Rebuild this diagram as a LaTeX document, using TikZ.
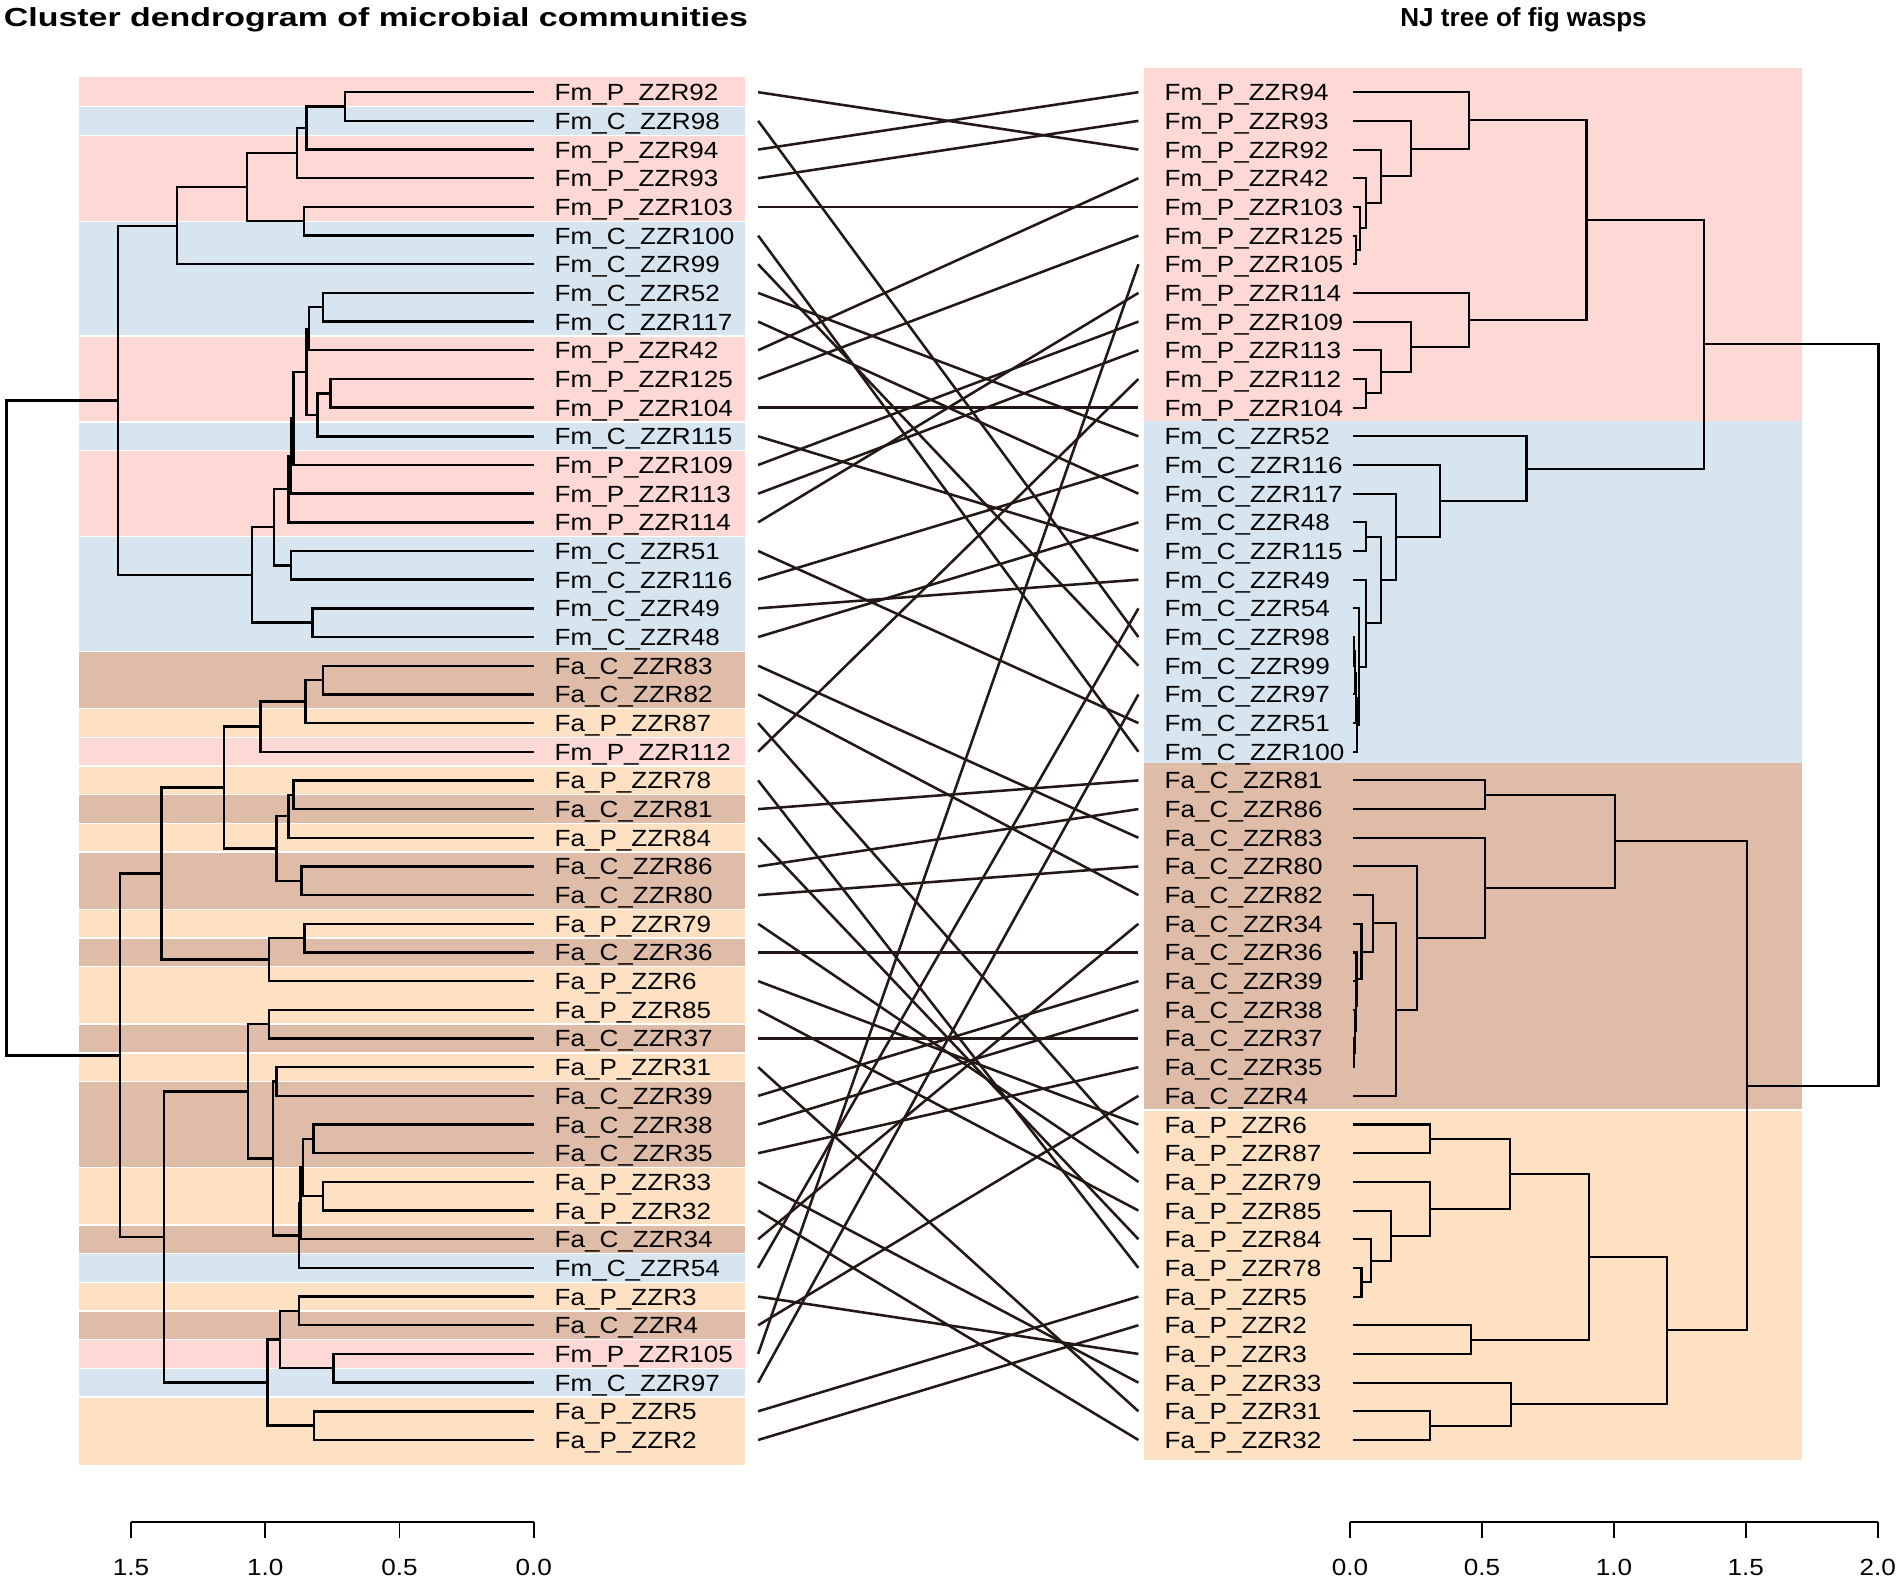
\documentclass[tikz,border=0pt]{standalone}
\usepackage{fontspec}
\setmainfont{Liberation Sans}
\usepackage{graphicx}
\usetikzlibrary{calc}
\definecolor{colmp}{HTML}{FDD8D5}
\definecolor{colmc}{HTML}{D7E5F1}
\definecolor{colac}{HTML}{DFBCA8}
\definecolor{colap}{HTML}{FDE1C2}
\definecolor{linec}{HTML}{231815}
\newcommand\premp{Fm\_P\_ZZR}
\newcommand\premc{Fm\_C\_ZZR}
\newcommand\preac{Fa\_C\_ZZR}
\newcommand\preap{Fa\_P\_ZZR}
\newcommand\RY[1]{76+23.64*(#1)}
\newcommand\stx[1]{\scalebox{1.114}[1]{#1}}
\newcommand\mkjoin[4]{\path let \p1=(#3), \p2=(#4) in coordinate (#1) at (#2pt,{0.5*\y1+0.5*\y2});
  \draw[tree] (#3) -| (#1) |- (#4);}
\begin{document}
\begin{tikzpicture}[x=1pt,y=-1pt,
  lab/.style={font=\fontsize{19.3}{22}\selectfont, inner sep=0pt},
  ttl/.style={font=\bfseries\fontsize{21.5}{24}\selectfont, inner sep=0pt},
  conn/.style={line width=2.1pt, draw=linec},
  tree/.style={line width=2pt, draw=black},
  axis/.style={line width=1.5pt, draw=black}]
\useasboundingbox (0,0) rectangle (1568,1307);
% ---------- left bands ----------
\foreach \g/\n [count=\i from 0] in {mp/92,mc/98,mp/94,mp/93,mp/103,mc/100,mc/99,mc/52,mc/117,mp/42,mp/125,mp/104,mc/115,mp/109,mp/113,mp/114,mc/51,mc/116,mc/49,mc/48,ac/83,ac/82,ap/87,mp/112,ap/78,ac/81,ap/84,ac/86,ac/80,ap/79,ac/36,ap/6,ap/85,ac/37,ap/31,ac/39,ac/38,ac/35,ap/33,ap/32,ac/34,mc/54,ap/3,ac/4,mp/105,mc/97,ap/5,ap/2}{
  \fill[col\g] (65,{\RY{\i-0.5}-0.3}) rectangle (614,{\RY{\i+0.5}+0.3});
}
\fill[colap] (65,{\RY{47}}) rectangle (614,1208);
\foreach \k in {0,1,4,8,11,12,15,19,21,22,23,24,25,26,28,29,30,32,33,34,37,39,40,41,42,43,44,45}{
  \draw[white, line width=1.1pt] (65,{\RY{\k+0.5}}) -- (614,{\RY{\k+0.5}});
}
% ---------- right bands ----------
\fill[colmp] (943,56) rectangle (1485.6,347.5);
\fill[colmc] (943,347) rectangle (1485.6,629.5);
\fill[colac] (943,629) rectangle (1485.6,915.5);
\fill[colap] (943,915) rectangle (1485.6,1204);
\draw[white, line width=1.1pt] (943,915) -- (1485.6,915);
% ---------- left labels ----------
\foreach \g/\n [count=\i from 0] in {mp/92,mc/98,mp/94,mp/93,mp/103,mc/100,mc/99,mc/52,mc/117,mp/42,mp/125,mp/104,mc/115,mp/109,mp/113,mp/114,mc/51,mc/116,mc/49,mc/48,ac/83,ac/82,ap/87,mp/112,ap/78,ac/81,ap/84,ac/86,ac/80,ap/79,ac/36,ap/6,ap/85,ac/37,ap/31,ac/39,ac/38,ac/35,ap/33,ap/32,ac/34,mc/54,ap/3,ac/4,mp/105,mc/97,ap/5,ap/2}{
  \node[lab, anchor=base west] (TL\g\n) at (457,{\RY{\i}+7}) {\stx{\csname pre\g\endcsname\n}};
  \coordinate (L\g\n) at (440,{\RY{\i}});
  \coordinate (CL\g\n) at (625,{\RY{\i}});
}
% ---------- right labels ----------
\foreach \g/\n [count=\i from 0] in {mp/94,mp/93,mp/92,mp/42,mp/103,mp/125,mp/105,mp/114,mp/109,mp/113,mp/112,mp/104,mc/52,mc/116,mc/117,mc/48,mc/115,mc/49,mc/54,mc/98,mc/99,mc/97,mc/51,mc/100,ac/81,ac/86,ac/83,ac/80,ac/82,ac/34,ac/36,ac/39,ac/38,ac/37,ac/35,ac/4,ap/6,ap/87,ap/79,ap/85,ap/84,ap/78,ap/5,ap/2,ap/3,ap/33,ap/31,ap/32}{
  \node[lab, anchor=base west] (TR\g\n) at (960,{\RY{\i}+7}) {\stx{\csname pre\g\endcsname\n}};
  \coordinate (R\g\n) at (1115,{\RY{\i}});
  \coordinate (CR\g\n) at (938.5,{\RY{\i}});
}
% ---------- connectors ----------
\foreach \c in {mp92,mc98,mp94,mp93,mp103,mc100,mc99,mc52,mc117,mp42,mp125,mp104,mc115,mp109,mp113,mp114,mc51,mc116,mc49,mc48,ac83,ac82,ap87,mp112,ap78,ac81,ap84,ac86,ac80,ap79,ac36,ap6,ap85,ac37,ap31,ac39,ac38,ac35,ap33,ap32,ac34,mc54,ap3,ac4,mp105,mc97,ap5,ap2}{
  \draw[conn] (CL\c) -- (CR\c);
}
% ---------- left tree ----------
\mkjoin{ln1}{284.5}{Lmp92}{Lmc98}
\mkjoin{ln2}{252.5}{ln1}{Lmp94}
\mkjoin{ln3}{245}{ln2}{Lmp93}
\mkjoin{ln4}{250.5}{Lmp103}{Lmc100}
\mkjoin{ln5}{203.8}{ln3}{ln4}
\mkjoin{ln6}{145.9}{ln5}{Lmc99}
\mkjoin{lm1}{266.5}{Lmc52}{Lmc117}
\mkjoin{lm2}{254.5}{lm1}{Lmp42}
\mkjoin{lm3}{272.5}{Lmp125}{Lmp104}
\mkjoin{lm4}{261.7}{lm3}{Lmc115}
\mkjoin{lm5}{252.5}{lm2}{lm4}
\mkjoin{lm6}{241.8}{lm5}{Lmp109}
\mkjoin{lm7}{239.8}{lm6}{Lmp113}
\mkjoin{lm8}{237.8}{lm7}{Lmp114}
\mkjoin{lm9}{239.8}{Lmc51}{Lmc116}
\mkjoin{lm10}{225.8}{lm8}{lm9}
\mkjoin{lm11}{257.7}{Lmc49}{Lmc48}
\mkjoin{lm12}{207.8}{lm10}{lm11}
\mkjoin{lfm}{97.1}{ln6}{lm12}
\mkjoin{la1}{266.5}{Lac83}{Lac82}
\mkjoin{la2}{251.7}{la1}{Lap87}
\mkjoin{la3}{214.6}{la2}{Lmp112}
\mkjoin{la4}{241.8}{Lap78}{Lac81}
\mkjoin{la5}{237.8}{la4}{Lap84}
\mkjoin{la6}{248.6}{Lac86}{Lac80}
\mkjoin{la7}{227.8}{la5}{la6}
\mkjoin{la8}{184.6}{la3}{la7}
\mkjoin{la9}{251}{Lap79}{Lac36}
\mkjoin{la10}{221.8}{la9}{Lap6}
\mkjoin{la11}{133}{la8}{la10}
\mkjoin{lb1}{221.8}{Lap85}{Lac37}
\mkjoin{lb2}{227.8}{Lap31}{Lac39}
\mkjoin{lb3}{258.5}{Lac38}{Lac35}
\mkjoin{lb4}{266.5}{Lap33}{Lap32}
\mkjoin{lb5}{249.7}{lb3}{lb4}
\mkjoin{lb6}{247.8}{lb5}{Lac34}
\mkjoin{lb7}{246.6}{lb6}{Lmc54}
\mkjoin{lb8}{225}{lb2}{lb7}
\mkjoin{lb9}{204.6}{lb1}{lb8}
\mkjoin{lc1}{246.6}{Lap3}{Lac4}
\mkjoin{lc2}{274.9}{Lmp105}{Lmc97}
\mkjoin{lc3}{231}{lc1}{lc2}
\mkjoin{lc4}{259}{Lap5}{Lap2}
\mkjoin{lc5}{220.6}{lc3}{lc4}
\mkjoin{lc6}{135}{lb9}{lc5}
\mkjoin{lfa}{99.1}{la11}{lc6}
\mkjoin{lroot}{5.2}{lfm}{lfa}
% ---------- right tree ----------
\begin{scope}[tree/.style={line width=1.7pt, draw=black}]
\mkjoin{rp1}{1117.5}{Rmp125}{Rmp105}
\mkjoin{rp2}{1120.8}{Rmp103}{rp1}
\mkjoin{rp3}{1126.4}{Rmp42}{rp2}
\mkjoin{rp4}{1138.6}{Rmp92}{rp3}
\mkjoin{rp5}{1163}{Rmp93}{rp4}
\mkjoin{rp6}{1210.9}{Rmp94}{rp5}
\mkjoin{rq1}{1126.4}{Rmp112}{Rmp104}
\mkjoin{rq2}{1138.6}{Rmp113}{rq1}
\mkjoin{rq3}{1163}{Rmp109}{rq2}
\mkjoin{rq4}{1210.9}{Rmp114}{rq3}
\mkjoin{rpk}{1307.9}{rp6}{rq4}
\mkjoin{ru1}{1126.4}{Rmc48}{Rmc115}
\mkjoin{rv1}{1116}{Rmc98}{Rmc99}
\mkjoin{rv2}{1117}{rv1}{Rmc97}
\mkjoin{rv3}{1118}{rv2}{Rmc51}
\mkjoin{rv4}{1119}{rv3}{Rmc100}
\mkjoin{rv5}{1120.3}{Rmc54}{rv4}
\mkjoin{rv6}{1126.4}{Rmc49}{rv5}
\mkjoin{ru2}{1138.6}{ru1}{rv6}
\mkjoin{ru3}{1150.8}{Rmc117}{ru2}
\mkjoin{ru4}{1187.3}{Rmc116}{ru3}
\mkjoin{ru5}{1258.4}{Rmc52}{ru4}
\mkjoin{rpb}{1404.9}{rpk}{ru5}
\mkjoin{rw1}{1223.9}{Rac81}{Rac86}
\mkjoin{rx1}{1116}{Rac37}{Rac35}
\mkjoin{rx2}{1116.8}{Rac38}{rx1}
\mkjoin{rx3}{1117.5}{Rac39}{rx2}
\mkjoin{rx4}{1118.3}{Rac36}{rx3}
\mkjoin{rx5}{1122.4}{Rac34}{rx4}
\mkjoin{rx6}{1131.7}{Rac82}{rx5}
\mkjoin{rx7}{1150.8}{rx6}{Rac4}
\mkjoin{rx8}{1168.2}{Rac80}{rx7}
\mkjoin{rx9}{1223.9}{Rac83}{rx8}
\mkjoin{rfc}{1331.4}{rw1}{rx9}
\mkjoin{ry1}{1179.2}{Rap6}{Rap87}
\mkjoin{ry2}{1122.4}{Rap78}{Rap5}
\mkjoin{ry3}{1130.5}{Rap84}{ry2}
\mkjoin{ry4}{1146.7}{Rap85}{ry3}
\mkjoin{ry5}{1179.2}{Rap79}{ry4}
\mkjoin{ry6}{1245}{ry1}{ry5}
\mkjoin{ry7}{1212.9}{Rap2}{Rap3}
\mkjoin{ry8}{1310.3}{ry6}{ry7}
\mkjoin{ry9}{1179.2}{Rap31}{Rap32}
\mkjoin{ry10}{1245.4}{Rap33}{ry9}
\mkjoin{ry11}{1374}{ry8}{ry10}
\mkjoin{rfa}{1440.2}{rfc}{ry11}
\mkjoin{rroot}{1548.6}{rpb}{rfa}
\end{scope}
% ---------- axes ----------
\draw[axis] (108,1255) -- (440,1255);
\foreach \x/\t in {108/1.5,218.7/1.0,329.3/0.5,440/0.0}{
  \draw[axis] (\x,1255) -- (\x,1268);
  \node[lab] at (\x,1292) {\stx{\t}};
}
\draw[axis] (1113,1255) -- (1548,1255);
\foreach \x/\t in {1113/0.0,1221.75/0.5,1330.5/1.0,1439.25/1.5,1548/2.0}{
  \draw[axis] (\x,1255) -- (\x,1268);
  \node[lab] at (\x,1292) {\stx{\t}};
}
% ---------- titles ----------
\node[ttl] (t1) at (310,16) {\scalebox{1.3}[1]{Cluster dendrogram of microbial communities}};
\node[ttl] (t2) at (1256,16) {\scalebox{1.0}[1]{NJ tree of fig wasps}};
\end{tikzpicture}
\end{document}
